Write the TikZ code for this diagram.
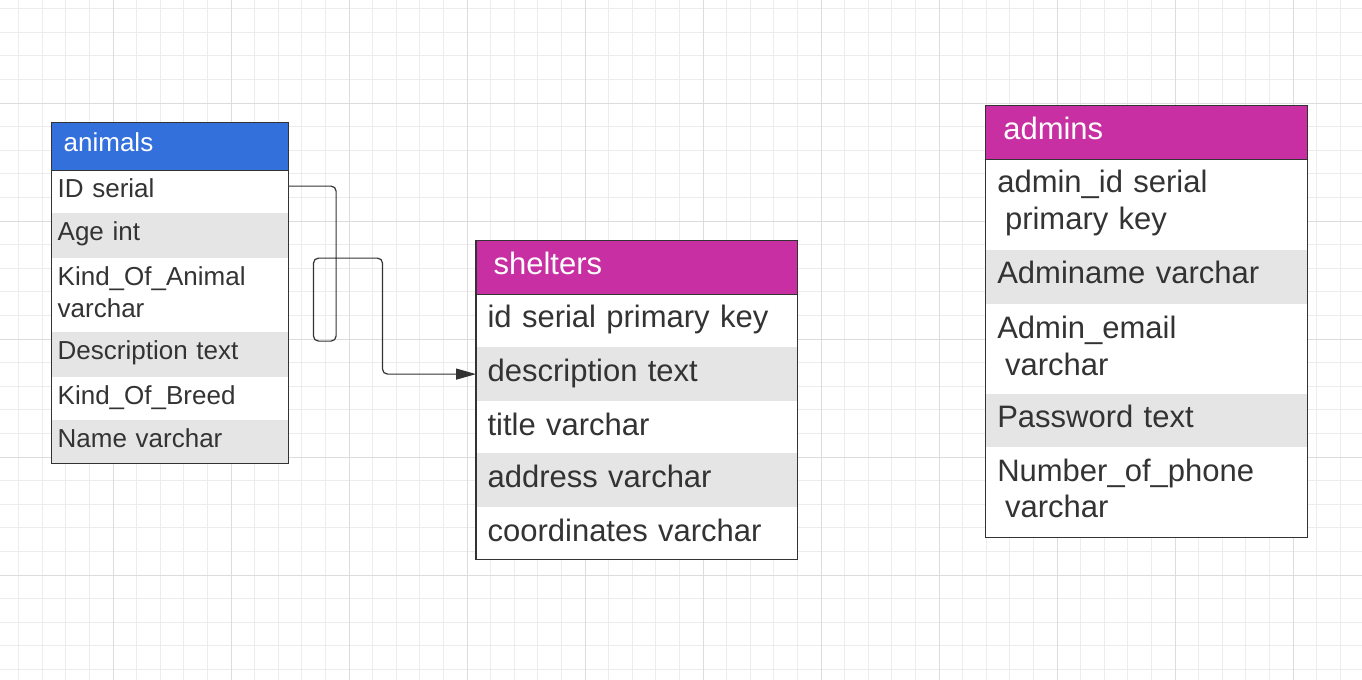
\documentclass[tikz,border=0pt]{standalone}
\usepackage{fontspec}
\setmainfont{Liberation Sans}
\usetikzlibrary{arrows.meta}
\definecolor{ink}{RGB}{51,51,51}
\definecolor{rowgray}{RGB}{229,229,229}
\definecolor{headblue}{RGB}{51,112,220}
\definecolor{headpink}{RGB}{199,47,163}
\definecolor{gridminor}{RGB}{236,236,236}
\definecolor{gridmajor}{RGB}{220,220,220}

\begin{document}
\begin{tikzpicture}[x=0.5pt, y=-0.5pt,
	cell/.style={anchor=north west, inner ysep=0pt, align=left, text=ink, fill=white},
	grayrow/.style={fill=rowgray},
	acell/.style={cell, font=\fontsize{13}{16}\selectfont, inner xsep=2.8pt, text width=112.2pt, text height=13.5pt},
	bcell/.style={cell, font=\fontsize{15.5}{18.35}\selectfont, inner xsep=5.6pt, text width=149.1pt, text height=17pt},
	ahead/.style={acell, inner xsep=5.8pt, text width=106.2pt, text height=14pt, text depth=9.65pt, text=white, fill=headblue},
	bhead/.style={bcell, inner xsep=8.6pt, text width=143.1pt, text height=16.75pt, text depth=9.55pt, text=white, fill=headpink},
	frame/.style={draw=ink, line width=0.6pt},
	link/.style={draw=ink, line width=0.6pt, rounded corners=2.5pt, -{Triangle[length=10pt,width=5.5pt]}}]
			%%%%% START %%%%%
			
			\useasboundingbox[fill=white] (0,0) rectangle (1362,680);
			
			% grid
			\foreach \i in {-4,...,53}
				\draw[gridminor, line width=0.5pt] (113+23.6*\i,0) -- (113+23.6*\i,680);
			\foreach \j in {-4,...,24}
				\draw[gridminor, line width=0.5pt] (0,103+23.6*\j) -- (1362,103+23.6*\j);
			\foreach \i in {-1,...,10}
				\draw[gridmajor, line width=0.5pt] (113+118*\i,0) -- (113+118*\i,680);
			\foreach \j in {0,...,4}
				\draw[gridmajor, line width=0.5pt] (0,103+118*\j) -- (1362,103+118*\j);
			
			% animals
			\node[ahead] (ahead) at (51.7,122.7) {animals};
			\node[acell, text depth=8pt] (aid) at (51.7,170) {ID serial};
			\node[acell, grayrow, text depth=8.85pt] (aage) at (51.7,213) {Age int};
			\node[acell, text depth=23.5pt] (akind) at (51.7,257.7) {Kind\_Of\_Animal\\varchar};
			\node[acell, grayrow, text depth=9pt] (adesc) at (51.7,331.7) {Description text};
			\node[acell, text depth=8.15pt] (abreed) at (51.7,376.7) {Kind\_Of\_Breed};
			\node[acell, grayrow, text depth=7.85pt] (aname) at (51.7,420) {Name varchar};
			\draw[frame] (ahead.north west) rectangle (aname.south east);
			\draw[frame] (ahead.south west) -- (ahead.south east);
			
			% shelters
			\node[bhead] (shead) at (476,240.7) {shelters};
			\node[bcell, text depth=9.7pt] (sid) at (476,293.3) {id serial primary key};
			\node[bcell, grayrow, text depth=10pt] (sdesc) at (476,346.7) {description text};
			\node[bcell, text depth=9pt] (stitle) at (476,400.7) {title varchar};
			\node[bcell, grayrow, text depth=10pt] (saddr) at (476,452.7) {address varchar};
			\node[bcell, text depth=8.8pt] (scoord) at (476,506.7) {coordinates varchar};
			\draw[frame] (shead.north west) rectangle (scoord.south east);
			\draw[frame] (shead.south west) -- (shead.south east);
			
			% admins
			\node[bhead] (dhead) at (985.7,105.7) {admins};
			\node[bcell, text depth=28.5pt] (did) at (985.7,158.3) {admin\_id serial\\\hspace*{.25em}primary key};
			\node[bcell, grayrow, text depth=10.35pt] (dname) at (985.7,249.3) {Adminame varchar};
			\node[bcell, text depth=27.65pt] (dmail) at (985.7,304) {Admin\_email\\\hspace*{.25em}varchar};
			\node[bcell, grayrow, text depth=9.7pt] (dpass) at (985.7,393.3) {Password text};
			\node[bcell, text depth=28pt] (dphone) at (985.7,446.7) {Number\_of\_phone\\\hspace*{.25em}varchar};
			\draw[frame] (dhead.north west) rectangle (dphone.south east);
			\draw[frame] (dhead.south west) -- (dhead.south east);
			
			% connector
			\draw[link] (aid.east) ++(0,-5.8) -- ++(48,0) -- ++(0,155) -- ++(-22.6,0) -- ++(0,-83) -- ++(69,0) |- (sdesc.west);
			
			%%%%% END %%%%%
\end{tikzpicture}
\end{document}
